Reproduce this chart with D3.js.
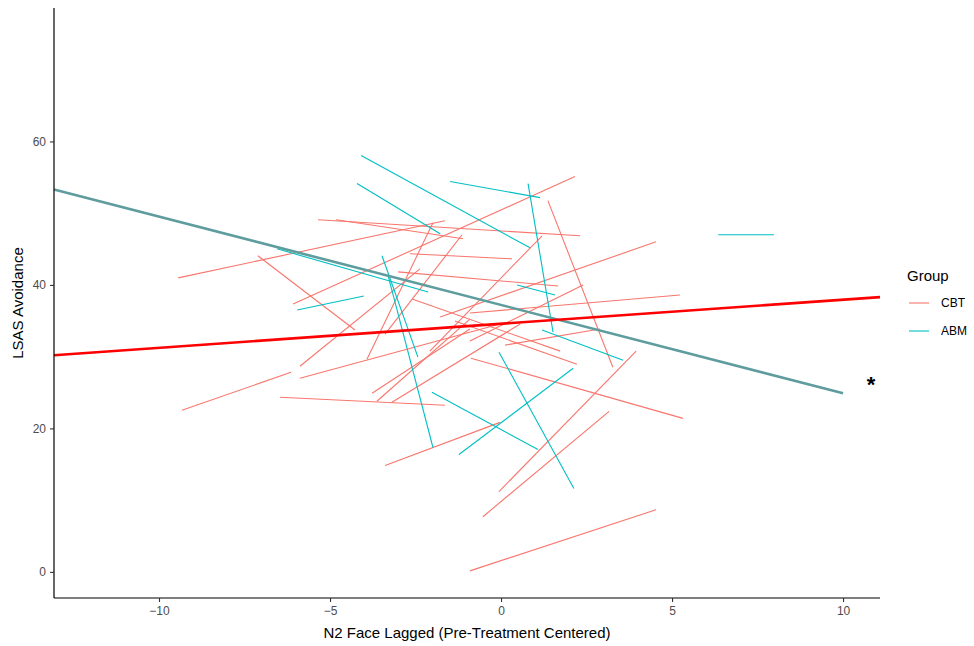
<!DOCTYPE html>
<html>
<head>
<meta charset="utf-8">
<script src="https://cdn.jsdelivr.net/npm/d3@7"></script>
<style>
  html, body { margin: 0; padding: 0; background: #fff; }
  svg { display: block; font-family: "Liberation Sans", Arial, sans-serif; }
</style>
</head>
<body>
<svg id="chart" width="974" height="646"></svg>
<script>
// Per-participant trajectories: start/end x (N2 face lagged) and y (LSAS avoidance)
const cbtX1 = [-9.44, -7.11, -6.08, -5.35, -4.82, -2.66, -3.01, 1.37, -1.78, -0.91, -3.92, -9.33, -5.88, -5.88, -6.46, -3.39, -0.06, -0.53, -0.91, -0.88, -1.35, -3.77, -2.60, -0.91, -3.39, -2.08, -3.63, -3.19, 0.12];
const cbtY1 = [40.98, 44.06, 37.34, 49.09, 49.09, 44.34, 41.82, 51.75, 35.52, 36.08, 29.65, 22.52, 26.99, 28.67, 24.34, 14.83, 11.19, 7.69, 0.14, 29.79, 34.97, 24.90, 38.04, 32.17, 33.15, 30.77, 23.78, 23.64, 31.61];
const cbtX2 = [-1.64, -4.27, 2.16, 2.31, -1.11, 0.32, 1.67, 3.27, 4.53, 5.23, -1.99, -6.14, -0.03, -2.37, -1.64, -0.03, 3.95, 3.16, 4.53, 5.32, 2.22, -0.91, 1.73, 2.40, -1.14, 1.20, -0.91, 0.56, 2.89];
const cbtY2 = [48.95, 33.71, 55.10, 46.85, 46.43, 43.64, 39.86, 28.53, 46.01, 38.60, 48.67, 27.83, 34.55, 42.24, 23.22, 20.84, 30.77, 22.38, 8.67, 21.40, 28.95, 33.85, 30.77, 40.00, 46.99, 46.85, 35.24, 34.55, 33.85];

const abmX1 = [-4.09, -4.21, -1.49, 0.79, 6.35, -6.55, -5.96, -3.30, -3.48, 0.47, 1.20, -2.02, -1.23, -0.06];
const abmY1 = [58.04, 54.13, 54.41, 54.13, 46.99, 45.03, 36.50, 41.26, 44.06, 40.00, 33.71, 25.03, 16.36, 30.63];
const abmX2 = [0.85, -1.78, 1.14, 1.52, 7.98, -2.13, -4.01, -1.99, -2.43, 1.58, 3.57, 1.08, 2.11, 2.13];
const abmY2 = [45.17, 47.13, 52.17, 33.43, 46.99, 39.02, 38.46, 17.34, 29.93, 38.60, 29.51, 17.06, 28.39, 11.61];

// Group-level fitted lines (endpoints)
const cbtFitX = [-13.07, 11.08];
const cbtFitY = [30.2, 38.3];
const abmFitX = [-13.07, 10];
const abmFitY = [53.3, 24.9];

const groups = ["CBT", "ABM"];
const groupColors = ["#F8766D", "#00BFC4"];
const xTicks = [-10, -5, 0, 5, 10];
const yTicks = [0, 20, 40, 60];

const svg = d3.select("#chart");
const panel = { left: 54, right: 880, top: 8, bottom: 598 };

const x = d3.scaleLinear().domain([-13.07, 11.08]).range([panel.left, panel.right]);
const y = d3.scaleLinear().domain([-3.64, 78.6]).range([panel.bottom, panel.top]);
const color = d3.scaleOrdinal().domain(groups).range(groupColors);

function segments(x1, y1, x2, y2, group) {
  return x1.map((d, i) => ({ x1: d, y1: y1[i], x2: x2[i], y2: y2[i], group }));
}
const segs = segments(cbtX1, cbtY1, cbtX2, cbtY2, "CBT")
  .concat(segments(abmX1, abmY1, abmX2, abmY2, "ABM"));

const plot = svg.append("g");
plot.selectAll("line.traj")
  .data(segs)
  .join("line")
  .attr("class", "traj")
  .attr("x1", d => x(d.x1)).attr("y1", d => y(d.y1))
  .attr("x2", d => x(d.x2)).attr("y2", d => y(d.y2))
  .attr("stroke", d => color(d.group))
  .attr("stroke-width", 1.1);

const line = d3.line().x(d => x(d[0])).y(d => y(d[1]));
plot.append("path")
  .attr("d", line(abmFitX.map((d, i) => [d, abmFitY[i]])))
  .attr("fill", "none").attr("stroke", "#5E9C9E").attr("stroke-width", 2.6);
plot.append("path")
  .attr("d", line(cbtFitX.map((d, i) => [d, cbtFitY[i]])))
  .attr("fill", "none").attr("stroke", "#FF0000").attr("stroke-width", 2.6);

// Axes
const xAxis = svg.append("g")
  .attr("transform", `translate(0,${panel.bottom})`)
  .call(d3.axisBottom(x).tickValues(xTicks).tickSize(4).tickPadding(4).tickSizeOuter(0));
const yAxis = svg.append("g")
  .attr("transform", `translate(${panel.left},0)`)
  .call(d3.axisLeft(y).tickValues(yTicks).tickSize(4).tickPadding(4).tickSizeOuter(0));

[xAxis, yAxis].forEach(a => {
  a.select(".domain").attr("stroke", "#000").attr("stroke-width", 1.2);
  a.selectAll(".tick line").attr("stroke", "#333").attr("stroke-width", 1.1);
  a.selectAll(".tick text").attr("fill", "#4D4D4D").attr("font-size", 12)
    .attr("font-family", "Liberation Sans, Arial, sans-serif");
});
xAxis.select(".domain").attr("d", `M${panel.left},0H${panel.right}`);
yAxis.select(".domain").attr("d", `M0,${panel.top}V${panel.bottom}`);

// Axis titles
svg.append("text")
  .attr("x", (panel.left + panel.right) / 2).attr("y", 638)
  .attr("text-anchor", "middle").attr("font-size", 15).attr("fill", "#000")
  .text("N2 Face Lagged (Pre-Treatment Centered)");
svg.append("text")
  .attr("transform", `translate(23,${(panel.top + panel.bottom) / 2}) rotate(-90)`)
  .attr("text-anchor", "middle").attr("font-size", 15).attr("fill", "#000")
  .text("LSAS Avoidance");

// Significance marker
svg.append("text")
  .attr("x", 871).attr("y", 392)
  .attr("text-anchor", "middle").attr("font-size", 22).attr("font-weight", "bold")
  .attr("fill", "#000")
  .text("*");

// Legend
const legend = svg.append("g").attr("transform", "translate(907,0)");
legend.append("text").attr("x", 0).attr("y", 281)
  .attr("font-size", 15).attr("fill", "#000").text("Group");
const items = legend.selectAll("g.item").data(groups).join("g")
  .attr("class", "item")
  .attr("transform", (d, i) => `translate(0,${303 + i * 28})`);
items.append("line").attr("x1", 2).attr("x2", 22).attr("y1", 0).attr("y2", 0)
  .attr("stroke", d => color(d)).attr("stroke-width", 1.1);
items.append("text").attr("x", 34).attr("y", 0).attr("dy", "0.35em")
  .attr("font-size", 12).attr("fill", "#000").text(d => d);
</script>
</body>
</html>
